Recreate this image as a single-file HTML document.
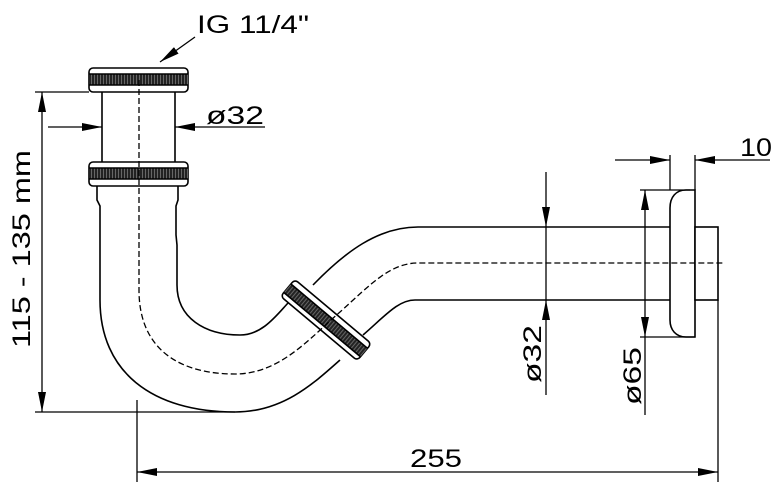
<!DOCTYPE html>
<html><head><style>html,body{margin:0;padding:0;background:#fff}svg{display:block}</style></head>
<body>
<svg width="776" height="488" viewBox="0 0 776 488" xmlns="http://www.w3.org/2000/svg" font-family="Liberation Sans, sans-serif" fill="none" stroke="#000" stroke-width="1.6">
<defs>
<marker id="a" viewBox="0 0 20 8" refX="20" refY="4" markerWidth="20" markerHeight="8" markerUnits="userSpaceOnUse" orient="auto-start-reverse"><path d="M0,0 L20,4 L0,8 Z" fill="#000" stroke="none"/></marker>
<pattern id="k" width="3" height="10" patternUnits="userSpaceOnUse"><rect width="3" height="10" fill="#222" stroke="none"/><line x1="1.5" y1="0" x2="1.5" y2="10" stroke="#777" stroke-width="0.8"/></pattern>
</defs>

<rect x="89" y="68" width="99" height="24" rx="4" fill="#fff"/>
<rect x="89" y="74" width="99" height="11" fill="url(#k)" stroke="none"/>
<line x1="89" y1="74" x2="188" y2="74"/><line x1="89" y1="85" x2="188" y2="85"/>
<line x1="102" y1="92" x2="102" y2="162"/><line x1="175" y1="92" x2="175" y2="162"/>
<rect x="89" y="162" width="99" height="24" rx="4" fill="#fff"/>
<rect x="89" y="168" width="99" height="11" fill="url(#k)" stroke="none"/>
<line x1="89" y1="168" x2="188" y2="168"/><line x1="89" y1="179" x2="188" y2="179"/>
<path d="M97,186 V200 L100,206 V235 L100,245 V300 C100,372 152,412 235,412 C282,412 312,385 340,360"/>
<path d="M178,186 V200 L176,206 V235 L177,245 V285 C177,318 205,335 240,335 C262,335 276,316 288,303"/>
<path d="M313,285 C345,252 378,227 418,227 H670"/>
<path d="M363,335 C385,316 398,300 415,300 H670"/>
<g transform="translate(326,320) rotate(40)">
<rect x="-50" y="-11" width="100" height="22" rx="4" fill="#fff"/>
<rect x="-50" y="-5" width="100" height="11" fill="url(#k)" stroke="none"/>
<line x1="-50" y1="-5" x2="50" y2="-5"/><line x1="-50" y1="6" x2="50" y2="6"/>
</g>
<path d="M686,190 H695 V337 H686 C676,337 670,330 670,320 V208 C670,197 676,190 686,190 Z" fill="#fff"/>
<rect x="695" y="227" width="23" height="73" fill="#fff"/>
<path d="M139,80 V290 C139,350 180,374 235,374 C280,374 310,338 340,312 C370,285 390,263 418,263 H725" stroke-dasharray="6,3" stroke-width="1.3"/>

<g stroke-width="1.3">
<line x1="35" y1="92" x2="89" y2="92"/><line x1="35" y1="412" x2="235" y2="412"/>
<line x1="42" y1="92" x2="42" y2="412" marker-start="url(#a)" marker-end="url(#a)"/>
<line x1="48" y1="127" x2="102" y2="127" marker-end="url(#a)"/>
<line x1="265" y1="127" x2="175" y2="127" marker-end="url(#a)"/>
<line x1="195" y1="37" x2="160" y2="62" marker-end="url(#a)"/>
<line x1="137" y1="400" x2="137" y2="482"/><line x1="718" y1="300" x2="718" y2="482"/>
<line x1="137" y1="472" x2="718" y2="472" marker-start="url(#a)" marker-end="url(#a)"/>
<line x1="546" y1="172" x2="546" y2="227" marker-end="url(#a)"/>
<line x1="546" y1="395" x2="546" y2="300" marker-end="url(#a)"/>
<line x1="546" y1="227" x2="546" y2="300"/>
<line x1="640" y1="190" x2="690" y2="190"/><line x1="640" y1="337" x2="695" y2="337"/>
<line x1="645" y1="337" x2="645" y2="190" marker-start="url(#a)" marker-end="url(#a)"/>
<line x1="645" y1="337" x2="645" y2="415"/>
<line x1="670" y1="155" x2="670" y2="190"/><line x1="695" y1="155" x2="695" y2="190"/>
<line x1="615" y1="160" x2="670" y2="160" marker-end="url(#a)"/>
<line x1="770" y1="160" x2="695" y2="160" marker-end="url(#a)"/>
</g>

<g fill="#000" stroke="none" font-size="25">
<text x="197" y="33" textLength="112" lengthAdjust="spacingAndGlyphs">IG 11/4"</text>
<text x="206" y="124" textLength="58" lengthAdjust="spacingAndGlyphs">ø32</text>
<text x="410" y="467" textLength="52" lengthAdjust="spacingAndGlyphs">255</text>
<text x="740" y="156" textLength="32" lengthAdjust="spacingAndGlyphs">10</text>
<text transform="translate(30,348) rotate(-90)" textLength="198" lengthAdjust="spacingAndGlyphs">115 - 135 mm</text>
<text transform="translate(541,383) rotate(-90)" textLength="58" lengthAdjust="spacingAndGlyphs">ø32</text>
<text transform="translate(641,405) rotate(-90)" textLength="58" lengthAdjust="spacingAndGlyphs">ø65</text>
</g>
</svg>
</body></html>
